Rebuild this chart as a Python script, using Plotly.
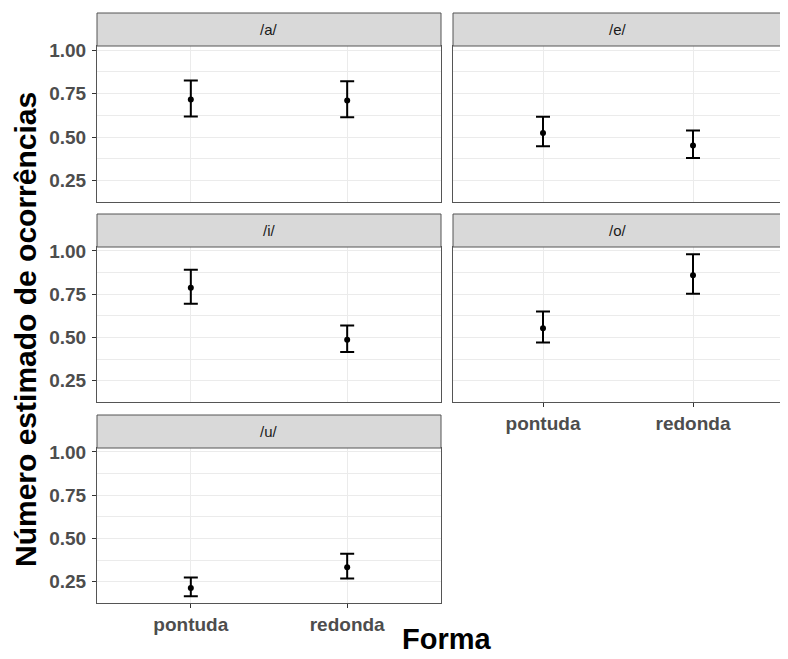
import plotly.graph_objects as go

# ---- data ----
vowels = ["/a/", "/e/", "/i/", "/o/", "/u/"]
formas = ["pontuda", "redonda"]
estimate = {
    "/a/": [0.716, 0.710],
    "/e/": [0.524, 0.451],
    "/i/": [0.787, 0.487],
    "/o/": [0.554, 0.860],
    "/u/": [0.213, 0.334],
}
lower = {
    "/a/": [0.618, 0.614],
    "/e/": [0.447, 0.380],
    "/i/": [0.695, 0.416],
    "/o/": [0.471, 0.753],
    "/u/": [0.166, 0.269],
}
upper = {
    "/a/": [0.825, 0.820],
    "/e/": [0.616, 0.537],
    "/i/": [0.891, 0.569],
    "/o/": [0.650, 0.981],
    "/u/": [0.275, 0.411],
}
y_ticks = [0.25, 0.50, 0.75, 1.00]
y_tick_labels = ["0.25", "0.50", "0.75", "1.00"]
y_minor = [0.375, 0.625, 0.875]

# page body has an 8px margin: the figure is drawn at (8, 8) in the window
OFF = 8
W, H = 788 - OFF, 659 - OFF
FONT = "Liberation Sans, Arial, sans-serif"

# panel pixel layout (window coords): columns, rows (strip_top, plot_top, plot_bottom)
cols = [(97, 441), (453, 783)]
rows = [(13, 46, 202), (214, 247, 402), (415, 448, 603)]
panel_pos = {"/a/": (0, 0), "/e/": (0, 1), "/i/": (1, 0), "/o/": (1, 1), "/u/": (2, 0)}
bottom_x = {"/o/", "/u/"}

def px(x):
    return (x - OFF) / W

def py(y):
    return 1 - (y - OFF) / H

fig = go.Figure()
layout = dict(
    width=W, height=H,
    margin=dict(l=0, r=0, t=0, b=0, autoexpand=False),
    paper_bgcolor="white", plot_bgcolor="white",
    showlegend=False,
    font=dict(family=FONT),
)
shapes = []
annotations = []
BORDER = "#555555"

for i, v in enumerate(vowels):
    r, c = panel_pos[v]
    x0, x1 = cols[c]
    st, pt, pb = rows[r]
    suffix = "" if i == 0 else str(i + 1)
    xa, ya = "x" + suffix, "y" + suffix

    fig.add_trace(go.Scatter(
        x=formas, y=estimate[v],
        xaxis=xa, yaxis=ya,
        mode="markers",
        marker=dict(color="black", size=6),
        error_y=dict(
            type="data", symmetric=False,
            array=[u - e for u, e in zip(upper[v], estimate[v])],
            arrayminus=[e - l for e, l in zip(estimate[v], lower[v])],
            color="black", thickness=2, width=7,
        ),
        hoverinfo="skip",
    ))

    show_x = v in bottom_x
    show_y = c == 0
    layout["xaxis" + suffix] = dict(
        domain=[px(x0), px(x1)], anchor=ya,
        type="category", categoryorder="array", categoryarray=formas,
        range=[-0.6, 1.6],
        showgrid=True, gridcolor="#EBEBEB", gridwidth=1,
        showline=True, mirror=True, linecolor=BORDER, linewidth=1,
        ticks="outside" if show_x else "", ticklen=4, tickcolor="#333333",
        showticklabels=show_x,
        tickfont=dict(family=FONT, size=19, color="#4D4D4D", weight="bold"),
        zeroline=False, fixedrange=True, automargin=False,
    )
    layout["yaxis" + suffix] = dict(
        domain=[py(pb), py(pt)], anchor=xa,
        range=[0.127, 1.023],
        tickvals=y_ticks, ticktext=y_tick_labels,
        showgrid=True, gridcolor="#EBEBEB", gridwidth=1,
        minor=dict(tickvals=y_minor, showgrid=True, gridcolor="#EBEBEB", gridwidth=0.5, ticks=""),
        showline=True, mirror=True, linecolor=BORDER, linewidth=1,
        ticks="outside" if show_y else "", ticklen=4, tickcolor="#333333",
        showticklabels=show_y, ticklabelstandoff=2,
        tickfont=dict(family=FONT, size=19, color="#4D4D4D", weight="bold"),
        zeroline=False, fixedrange=True, automargin=False,
    )
    # strip
    shapes.append(dict(
        type="rect", xref="paper", yref="paper",
        x0=px(x0), x1=px(x1), y0=py(pt), y1=py(st),
        fillcolor="#D9D9D9", line=dict(color=BORDER, width=1), layer="above",
    ))
    annotations.append(dict(
        text=v, xref="paper", yref="paper",
        x=px((x0 + x1) / 2), y=py((st + pt) / 2),
        xanchor="center", yanchor="middle", showarrow=False,
        font=dict(family=FONT, size=15, color="#1A1A1A"),
    ))

annotations.append(dict(
    text="<b>Número estimado de ocorrências</b>", xref="paper", yref="paper",
    x=px(25), y=py(330), xanchor="center", yanchor="middle",
    textangle=-90, showarrow=False,
    font=dict(family=FONT, size=30, color="black"),
))
annotations.append(dict(
    text="<b>Forma</b>", xref="paper", yref="paper",
    x=px(447), y=py(639), xanchor="center", yanchor="middle",
    showarrow=False,
    font=dict(family=FONT, size=29, color="black"),
))

layout["shapes"] = shapes
layout["annotations"] = annotations
fig.update_layout(**layout)
fig.write_html("out.html")
